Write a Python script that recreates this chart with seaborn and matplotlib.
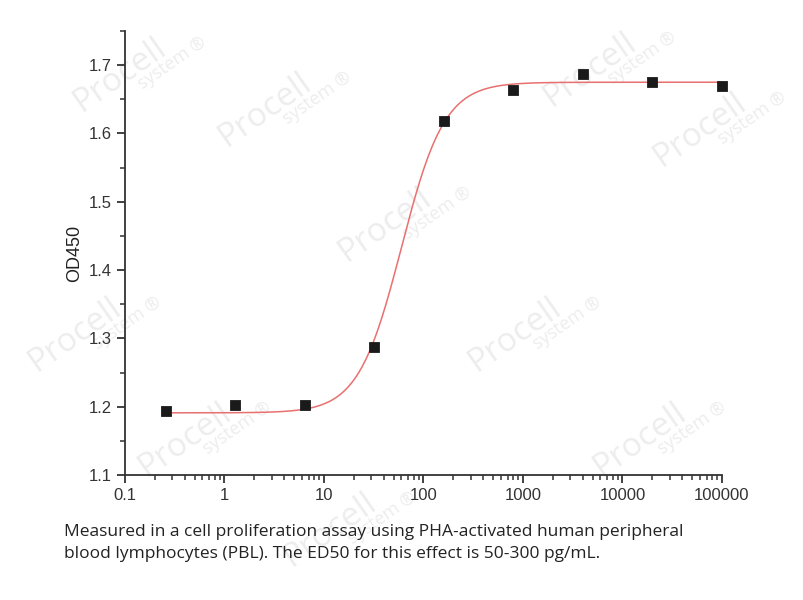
import numpy as np
import pandas as pd
import seaborn as sns
import matplotlib.pyplot as plt

# measured points (5-fold dilution series, pg/mL)
conc = [0.256, 1.28, 6.4, 32, 160, 800, 4000, 20000, 100000]
od450 = [1.194, 1.203, 1.203, 1.287, 1.618, 1.664, 1.687, 1.676, 1.670]

# 4-parameter logistic fit
fit_bottom = 1.191
fit_top = 1.675
fit_ec50 = 60.0
fit_hill = 2.0

caption = ("Measured in a cell proliferation assay using PHA-activated human peripheral\n"
           "blood lymphocytes (PBL). The ED50 for this effect is 50-300 pg/mL.")

# watermark centres in figure pixels
wm_pos = [(120, 75), (265, 110), (590, 70), (700, 130), (385, 225), (515, 335),
          (75, 335), (185, 440), (640, 440), (330, 530)]

sns.set_theme(style="ticks")
plt.rcParams['font.family'] = ['Liberation Sans', 'DejaVu Sans']

df = pd.DataFrame({"conc": conc, "od": od450})
xs = np.logspace(np.log10(conc[0]), np.log10(conc[-1]), 400)
fit = pd.DataFrame({"conc": xs,
                    "od": fit_bottom + (fit_top - fit_bottom) / (1 + (fit_ec50 / xs) ** fit_hill)})

fig = plt.figure(figsize=(8.04, 6.0), dpi=100)

# watermarks behind everything
for (px, py) in wm_pos:
    fig.text(px / 804, 1 - py / 600, "Procell", fontsize=24, color="#ededed",
             rotation=35, ha="center", va="center", family="Open Sans", zorder=0)
    fig.text(px / 804 + 0.065, 1 - py / 600 + 0.02, "system ®", fontsize=13, color="#ededed",
             rotation=35, ha="center", va="center", family="Open Sans", zorder=0)

ax = fig.add_axes([125 / 804, 125 / 600, 597 / 804, 444 / 600])
ax.set_zorder(2)
ax.patch.set_alpha(0)

sns.lineplot(data=fit, x="conc", y="od", color="#e8706f", lw=1.1, ax=ax, zorder=2)
sns.scatterplot(data=df, x="conc", y="od", marker="s", s=55, color="#1a1a1a",
                edgecolor="#1a1a1a", ax=ax, zorder=3, clip_on=False)

ax.set_xscale("log")
ax.set_xlim(0.1, 100000)
ax.set_ylim(1.1, 1.75)
ax.set_xticks([0.1, 1, 10, 100, 1000, 10000, 100000])
ax.set_xticklabels(["0.1", "1", "10", "100", "1000", "10000", "100000"])
ax.set_yticks([1.1, 1.2, 1.3, 1.4, 1.5, 1.6, 1.7])
ax.set_yticks(np.arange(1.15, 1.75, 0.1), minor=True)
ax.set_xlabel("")
ax.set_ylabel("OD450", fontsize=13, color="#222222")

sns.despine(ax=ax)
for s in ["left", "bottom"]:
    ax.spines[s].set_color("#333333")
    ax.spines[s].set_linewidth(1.3)
ax.tick_params(which="major", length=6, width=1.3, color="#333333",
               labelsize=12, labelcolor="#333333")
ax.tick_params(which="minor", length=3.5, width=1.1, color="#333333")

fig.text(64 / 804, 1 - 543 / 600, caption, fontsize=12.5, color="#222222",
         family="Open Sans", va="center", ha="left", linespacing=1.45)

fig.savefig("out.png", dpi=100)
